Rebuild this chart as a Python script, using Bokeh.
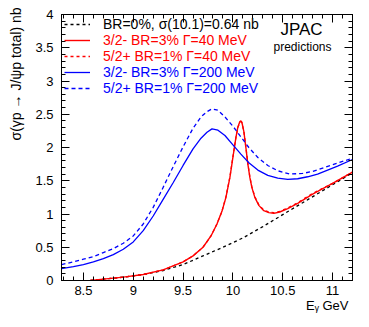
import math
from bokeh.plotting import figure
from bokeh.models import (Legend, LegendItem, Label, LinearAxis, Range1d,
                          SingleIntervalTicker, NumeralTickFormatter, CustomJSTickFormatter)
from bokeh.embed import file_html
from bokeh.resources import INLINE

# ---- data ----
bg_E = [8.57, 8.7, 8.9, 9.1, 9.3, 9.5, 9.7, 9.9, 10.1, 10.3, 10.5, 10.7, 10.9, 11.1, 11.2]
bg_s = [0.0, 0.02, 0.05, 0.09, 0.15, 0.24, 0.37, 0.50, 0.64, 0.81, 0.99, 1.17, 1.35, 1.53, 1.62]

red32_E = [8.57, 8.7, 8.9, 9.1, 9.3, 9.5, 9.6, 9.7, 9.78, 9.84, 9.89, 9.93, 9.97, 10.0,
           10.03, 10.05, 10.07, 10.08, 10.09, 10.11, 10.13, 10.15, 10.17, 10.19, 10.22,
           10.26, 10.31, 10.36, 10.41, 10.47, 10.55, 10.65, 10.8, 11.0, 11.2]
red32_s = [0.0, 0.02, 0.05, 0.09, 0.16, 0.28, 0.37, 0.50, 0.67, 0.85, 1.04, 1.25, 1.55, 1.85,
           2.15, 2.31, 2.39, 2.40, 2.38, 2.24, 2.00, 1.75, 1.55, 1.40, 1.25,
           1.13, 1.05, 1.02, 1.01, 1.03, 1.08, 1.16, 1.30, 1.46, 1.63]

red52_E = [8.57, 8.7, 8.9, 9.1, 9.3, 9.5, 9.6, 9.7, 9.78, 9.84, 9.89, 9.93, 9.97, 10.0,
           10.03, 10.05, 10.07, 10.08, 10.09, 10.11, 10.13, 10.15, 10.17, 10.19, 10.22,
           10.26, 10.31, 10.36, 10.41, 10.47, 10.55, 10.65, 10.8, 11.0, 11.2]
red52_s = [0.0, 0.02, 0.05, 0.09, 0.16, 0.28, 0.37, 0.50, 0.67, 0.85, 1.04, 1.26, 1.56, 1.86,
           2.15, 2.30, 2.38, 2.39, 2.37, 2.24, 2.01, 1.76, 1.56, 1.41, 1.26,
           1.14, 1.06, 1.03, 1.02, 1.04, 1.09, 1.17, 1.31, 1.46, 1.63]

blue32_E = [8.28, 8.4, 8.5, 8.6, 8.7, 8.8, 8.9, 9.0, 9.1, 9.2, 9.3, 9.4, 9.5, 9.6, 9.68,
            9.74, 9.79, 9.85, 9.92, 10.0, 10.08, 10.16, 10.25, 10.35, 10.45, 10.55, 10.65,
            10.75, 10.85, 10.95, 11.05, 11.2]
blue32_s = [0.18, 0.21, 0.24, 0.28, 0.33, 0.39, 0.47, 0.58, 0.75, 0.97, 1.22, 1.47, 1.73,
            1.98, 2.14, 2.23, 2.28, 2.26, 2.18, 2.04, 1.90, 1.77, 1.66, 1.58, 1.54, 1.52,
            1.53, 1.56, 1.60, 1.66, 1.72, 1.82]

blue52_E = [8.28, 8.4, 8.5, 8.6, 8.7, 8.8, 8.9, 9.0, 9.1, 9.2, 9.3, 9.4, 9.5, 9.6, 9.68,
            9.74, 9.79, 9.85, 9.92, 10.0, 10.08, 10.16, 10.25, 10.35, 10.45, 10.57, 10.7,
            10.8, 10.9, 11.0, 11.1, 11.2]
blue52_s = [0.24, 0.28, 0.32, 0.36, 0.42, 0.48, 0.56, 0.67, 0.85, 1.10, 1.40, 1.71, 2.01,
            2.29, 2.46, 2.54, 2.58, 2.56, 2.46, 2.32, 2.16, 2.00, 1.85, 1.73, 1.65, 1.60,
            1.61, 1.64, 1.69, 1.74, 1.79, 1.84]

labels = ["BR=0%, \u03c3(10.1)=0.64 nb",
          "3/2- BR=3% \u0393=40 MeV",
          "5/2+ BR=1% \u0393=40 MeV",
          "3/2- BR=3% \u0393=200 MeV",
          "5/2+ BR=1% \u0393=200 MeV"]
x_ticks_interval = 0.5
y_ticks_interval = 0.5

FONT = "Liberation Sans"

p = figure(width=353, height=320, x_range=Range1d(8.28, 11.2), y_range=Range1d(0, 4),
           output_backend="svg", toolbar_location=None,
           min_border_left=61, min_border_right=1, min_border_top=14, min_border_bottom=40)
p.xgrid.visible = False
p.ygrid.visible = False
p.outline_line_color = "black"
p.outline_line_width = 1
p.background_fill_color = "white"
p.border_fill_color = "white"

p.add_layout(LinearAxis(), "right")
p.add_layout(LinearAxis(), "above")

for ax in p.xaxis:
    ax.ticker = SingleIntervalTicker(interval=x_ticks_interval, num_minor_ticks=5)
for ax in p.yaxis:
    ax.ticker = SingleIntervalTicker(interval=y_ticks_interval, num_minor_ticks=5)

for ax in p.axis:
    ax.major_tick_in = 8
    ax.major_tick_out = 0
    ax.minor_tick_in = 4
    ax.minor_tick_out = 0
    ax.major_tick_line_color = "black"
    ax.minor_tick_line_color = "black"
    ax.axis_line_color = "black"
    ax.formatter = NumeralTickFormatter(format="0.[0]")
    ax.major_label_text_font = FONT
    ax.major_label_text_font_size = "13px"
    ax.major_label_text_color = "black"

for ax in (p.right[0], p.above[0]):
    ax.formatter = CustomJSTickFormatter(code="return ''")
    ax.major_label_text_font_size = "0px"
    ax.major_label_standoff = 0

p.below[0].major_label_standoff = 5
p.left[0].major_label_standoff = 8

p.left[0].axis_label = "\u2003" * 10 + "\u2002" + "\u03c3(\u03b3p \u2192 J/\u03c8p total) nb"
p.left[0].axis_label_text_font = FONT
p.left[0].axis_label_text_font_size = "14px"
p.left[0].axis_label_text_font_style = "normal"
p.left[0].axis_label_text_color = "black"
p.left[0].axis_label_standoff = 8

p.below[0].axis_label = "\u2003" * 18 + "\u2002" + "E\u1d67 GeV"
p.below[0].axis_label_text_font = FONT
p.below[0].axis_label_text_font_size = "13px"
p.below[0].axis_label_text_font_style = "normal"
p.below[0].axis_label_text_color = "black"
p.below[0].axis_label_standoff = 0

r_bg = p.line(bg_E, bg_s, line_color="black", line_width=1.3, line_dash="3 3")
r_r32 = p.line(red32_E, red32_s, line_color="#ff0000", line_width=1.4)
r_r52 = p.line(red52_E, red52_s, line_color="#ff0000", line_width=1.3, line_dash="3 3")
r_b32 = p.line(blue32_E, blue32_s, line_color="#0000ff", line_width=1.3)
r_b52 = p.line(blue52_E, blue52_s, line_color="#0000ff", line_width=1.3, line_dash="4 3")

renderers = [r_bg, r_r32, r_r52, r_b32, r_b52]
colors = ["black", "#ff0000", "#ff0000", "#0000ff", "#0000ff"]
for i, (lab, r, c) in enumerate(zip(labels, renderers, colors)):
    leg = Legend(items=[LegendItem(label=lab, renderers=[r])],
                 location=(3, 248 - 16 * i), padding=0, margin=0, spacing=0,
                 glyph_width=26, glyph_height=14, label_height=14, label_standoff=13,
                 label_text_font=FONT, label_text_font_size="14px", label_text_color=c,
                 border_line_alpha=0, background_fill_alpha=0)
    p.add_layout(leg)

p.add_layout(Label(x=240, y=251, x_units="screen", y_units="screen", text="JPAC",
                   text_font=FONT, text_font_size="17px", text_align="center",
                   text_baseline="middle", text_color="black"))
p.add_layout(Label(x=241, y=234, x_units="screen", y_units="screen", text="predictions",
                   text_font=FONT, text_font_size="12px", text_align="center",
                   text_baseline="middle", text_color="black"))

open("out.html", "w").write(file_html(p, INLINE))
